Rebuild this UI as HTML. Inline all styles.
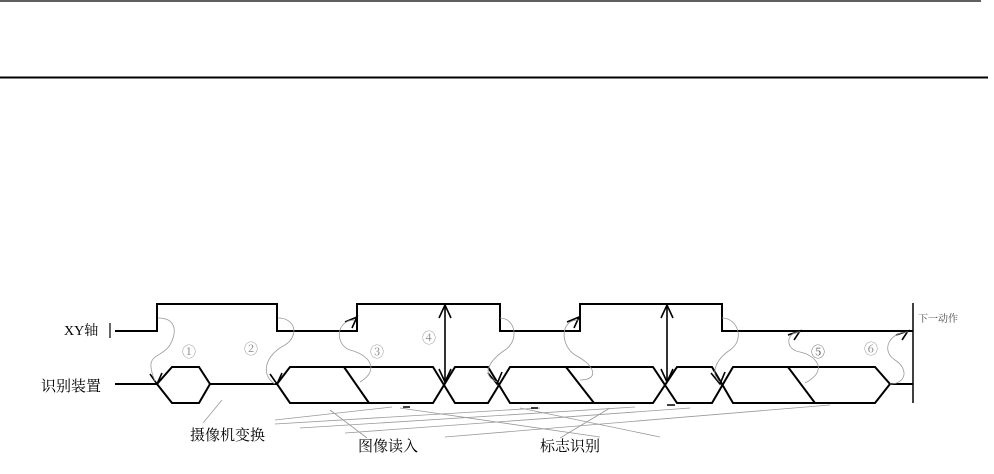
<!DOCTYPE html>
<html><head><meta charset="utf-8"><style>
html,body{margin:0;padding:0;background:#fff;width:994px;height:474px;overflow:hidden}
svg{display:block}
text{font-family:"Liberation Serif","Noto Serif CJK SC","Noto Sans CJK SC",serif}
</style></head><body>
<svg width="994" height="474" viewBox="0 0 994 474" xmlns="http://www.w3.org/2000/svg">
<line x1="0" y1="1" x2="981" y2="1" stroke="#000" stroke-width="1.2"/>
<line x1="0" y1="77.5" x2="988" y2="77.5" stroke="#000" stroke-width="2"/>

<g fill="none" stroke="#000" stroke-width="2">
<line x1="110" y1="323" x2="110" y2="338" stroke-width="1.2"/>
<polyline points="115,331 157,331 157,304 277,304 277,331 357,331 357,304 500,304 500,331 580,331 580,304 722,304 722,331 913,331"/>
<line x1="913" y1="303" x2="913" y2="403" stroke-width="1.5"/>
<!-- device line -->
<polyline points="115,384 157,384 172,367 199,367 210,384 172,403 157,384" stroke="none"/>
<line x1="115" y1="384" x2="157" y2="384"/>
<polygon points="157,384 172,367 199,367 210,384 199,403 172,403"/>
<line x1="210" y1="384" x2="277" y2="384"/>
<polyline points="277,384 290,367 433,367 455,403 488,403 510,367 653,367 677,403 712,403 733,367 875,367 890,384 875,403 733,403 712,367 677,367 653,403 510,403 488,367 455,367 433,403 290,403 277,384"/>
<line x1="890" y1="384" x2="913" y2="384"/>
<line x1="344" y1="367" x2="369" y2="403"/>
<line x1="566" y1="367" x2="594" y2="403"/>
<line x1="788" y1="367" x2="815" y2="403"/>
<!-- double arrows -->
<line x1="445" y1="305" x2="445" y2="382" stroke-width="1.6"/>
<polyline points="439,318 445,305 451,318" stroke-width="1.6"/>
<polyline points="439,369 445,382 451,369" stroke-width="1.6"/>
<line x1="667" y1="305" x2="667" y2="382" stroke-width="1.6"/>
<polyline points="661,318 667,305 673,318" stroke-width="1.6"/>
<polyline points="661,369 667,382 673,369" stroke-width="1.6"/>
<!-- arrowheads on device -->
<polyline points="150,374 157,384 162,373" stroke-width="1.6"/>
<polyline points="270,374 277,384 282,373" stroke-width="1.6"/>
<polyline points="488,373 497,384 502,372" stroke-width="1.6"/>
<polyline points="711,373 720,384 725,372" stroke-width="1.6"/>
<!-- arrowheads on XY -->
<polyline points="345,322 357,317 352,328" stroke-width="1.6"/>
<polyline points="567,322 579,317 574,328" stroke-width="1.6"/>
<polyline points="788,335 800,331 794,340" stroke-width="1.6"/>
<polyline points="896,335 908,331 902,340" stroke-width="1.6"/>
</g>

<g fill="none" stroke="#999" stroke-width="0.8">
<path d="M158,318 C175,318 178,330 170,345 C160,360 143,352 155,381"/>
<path d="M278,318 C295,318 300,335 285,345 C265,355 260,375 275,384"/>
<path d="M355,320 C335,320 335,345 350,350 C370,355 380,370 360,382"/>
<path d="M500,318 C515,318 520,340 505,350 C490,360 480,375 497,382"/>
<path d="M578,320 C560,320 560,345 575,355 C595,365 600,380 580,380"/>
<path d="M722,318 C738,318 745,340 730,350 C715,360 710,375 720,382"/>
<path d="M800,332 C785,332 785,350 800,352 C815,355 830,370 805,383"/>
<path d="M908,332 C890,332 880,350 895,360 C910,370 905,384 890,384"/>
<!-- leader lines -->
<line x1="203" y1="423" x2="222" y2="400" />
<line x1="367" y1="438" x2="330" y2="410"/>
<line x1="560" y1="438" x2="610" y2="408"/>
<line x1="275" y1="420" x2="392" y2="407"/>
<line x1="275" y1="424" x2="540" y2="408"/>
<line x1="300" y1="428" x2="635" y2="407"/>
<line x1="345" y1="433" x2="690" y2="408"/>
<line x1="445" y1="437" x2="830" y2="405"/>
<line x1="400" y1="408" x2="600" y2="437"/>
<line x1="520" y1="408" x2="660" y2="437"/>
</g>
<g stroke="#000" stroke-width="1.5">
<line x1="403" y1="407" x2="410" y2="407"/>
<line x1="531" y1="408" x2="538" y2="408"/>
<line x1="667" y1="405" x2="675" y2="405"/>
</g>

<g fill="#888" font-size="14">
<text x="182" y="357">①</text>
<text x="244" y="354">②</text>
<text x="370" y="357">③</text>
<text x="422" y="343">④</text>
<text x="811" y="357" fill="#555">⑤</text>
<text x="864" y="354">⑥</text>
</g>

<g fill="#000">
<text x="64" y="335" font-size="14">XY轴</text>
<text x="41" y="391" font-size="15">识别装置</text>
<text x="918" y="322" font-size="10" fill="#444">下一动作</text>
<text x="190" y="440" font-size="15">摄像机变换</text>
<text x="358" y="451" font-size="15">图像读入</text>
<text x="540" y="451" font-size="15">标志识别</text>
</g>
</svg>
</body></html>
